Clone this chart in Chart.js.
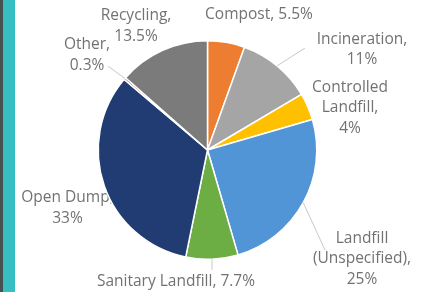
<!DOCTYPE html>
<html>
<head>
<meta charset="utf-8">
<script src="https://cdn.jsdelivr.net/npm/chart.js@4"></script>
<style>
  html,body{margin:0;padding:0;background:#fff;}
  body{width:423px;height:292px;position:relative;overflow:hidden;}
  .edge{position:absolute;left:0;top:0;width:3px;height:292px;background:#44524f;}
  .bar{position:absolute;left:3px;top:0;width:12px;height:292px;background:#36bec2;}
  canvas{position:absolute;left:0;top:0;}
</style>
</head>
<body>
<div class="edge"></div><div class="bar"></div>
<canvas id="pie" width="423" height="292"></canvas>
<script>
// waste treatment shares, clockwise from 12 o'clock
const categories = ['Compost','Incineration','Controlled Landfill','Landfill (Unspecified)','Sanitary Landfill','Open Dump','Other','Recycling'];
const values = [5.5, 11, 4, 25, 7.7, 33, 0.3, 13.5];
const colors = ['#ed7d31','#a5a5a5','#ffc000','#5195d6','#6cad44','#203c72','#9e480e','#7b7b7b'];

// how each label is broken into lines
const wrapMode = ['one','two','words','words','one','two','two','two'];
// label block centre, relative to the pie centre
const labelOffset = [[51.5,-135],[154.5,-100.5],[142.5,-42],[154.5,109],[-31.5,132],[-140,58],[-120.5,-95],[-71.5,-124]];
// leader line end, relative to the pie centre (null = no line)
const leaderEnd = [null,[97.5,-102],null,[117.5,100],[4.5,120],null,[-99.5,-84],null];

function labelLines(i){
  const v = values[i] + '%';
  if (wrapMode[i] === 'one') return [categories[i] + ', ' + v];
  if (wrapMode[i] === 'two') return [categories[i] + ',', v];
  const w = categories[i].split(' ');
  w[w.length-1] += ',';
  return w.concat([v]);
}

const pieLabels = {
  id:'pieLabels',
  beforeDatasetsDraw(chart){
    const ctx = chart.ctx, meta = chart.getDatasetMeta(0);
    ctx.save();
    ctx.font = '15.5px "Open Sans"';
    ctx.fillStyle = '#727272';
    ctx.textAlign = 'center';
    ctx.textBaseline = 'middle';
    const lh = 20.5;
    meta.data.forEach((arc,i)=>{
      const {x,y} = arc.getProps(['x','y'],true);
      const lines = labelLines(i);
      const cx = x + labelOffset[i][0], cy = y + labelOffset[i][1];
      const top = cy - (lines.length-1)*lh/2;
      lines.forEach((t,k)=>ctx.fillText(t, cx, top + k*lh));
    });
    ctx.restore();
  },
  afterDatasetsDraw(chart){
    const ctx = chart.ctx, meta = chart.getDatasetMeta(0);
    ctx.save();
    ctx.strokeStyle = '#c8c8c8';
    ctx.lineWidth = 1;
    meta.data.forEach((arc,i)=>{
      if (!leaderEnd[i]) return;
      const p = arc.getProps(['x','y','startAngle','endAngle','outerRadius'],true);
      const mid = (p.startAngle + p.endAngle)/2;
      ctx.beginPath();
      ctx.moveTo(p.x + Math.cos(mid)*p.outerRadius, p.y + Math.sin(mid)*p.outerRadius);
      ctx.lineTo(p.x + leaderEnd[i][0], p.y + leaderEnd[i][1]);
      ctx.stroke();
    });
    ctx.restore();
  }
};

new Chart(document.getElementById('pie'),{
  type:'pie',
  data:{labels:categories,datasets:[{data:values,backgroundColor:colors,borderColor:'#ffffff',borderWidth:1.5}]},
  options:{
    responsive:false,animation:false,
    layout:{padding:{top:40,bottom:32,left:0,right:8}},
    plugins:{legend:{display:false},tooltip:{enabled:false}}
  },
  plugins:[pieLabels]
});
</script>
</body>
</html>
